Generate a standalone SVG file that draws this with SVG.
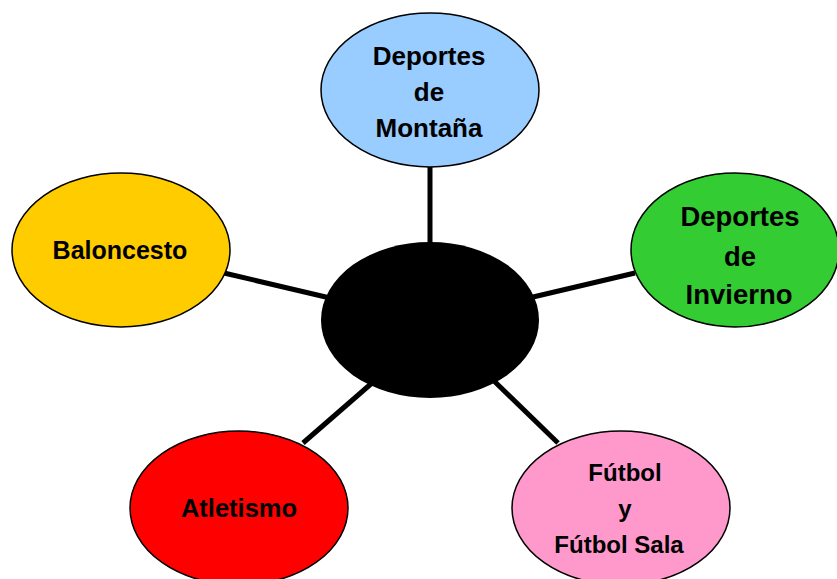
<svg xmlns="http://www.w3.org/2000/svg" width="837" height="579" viewBox="0 0 837 579">
<style>
.n{stroke:#000;stroke-width:1.5}
.c{stroke:#000;stroke-width:5;fill:none}
text{font-family:"Liberation Sans",Arial,sans-serif;font-weight:bold;fill:#000;text-anchor:middle}
</style>
<rect width="837" height="579" fill="#fff"/>
<g id="connectors">
<line class="c" x1="430" y1="166" x2="430" y2="244"/>
<line class="c" x1="224" y1="273" x2="330" y2="298"/>
<line class="c" x1="533" y1="297" x2="635" y2="273"/>
<line class="c" x1="372" y1="383" x2="303" y2="443"/>
<line class="c" x1="493" y1="380" x2="558" y2="443"/>
</g>
<g id="center"><ellipse cx="430" cy="320" rx="109" ry="78" fill="#000"/></g>
<g id="montana">
<ellipse class="n" cx="430" cy="90" rx="109" ry="77" fill="#99CCFF"/>
<text font-size="26" x="429" y="65">Deportes</text>
<text font-size="26" x="429" y="101">de</text>
<text font-size="26" x="429" y="137">Montaña</text>
</g>
<g id="invierno">
<ellipse class="n" cx="735" cy="250" rx="104" ry="77" fill="#33CC33"/>
<text font-size="27.5" x="740" y="226">Deportes</text>
<text font-size="27.5" x="740" y="266">de</text>
<text font-size="27.5" x="739" y="304">Invierno</text>
</g>
<g id="baloncesto">
<ellipse class="n" cx="121" cy="250" rx="109" ry="77" fill="#FFCC00"/>
<text font-size="25" x="120" y="259">Baloncesto</text>
</g>
<g id="atletismo">
<ellipse class="n" cx="239" cy="508" rx="109" ry="77" fill="#FF0000"/>
<text font-size="25.5" x="239" y="517">Atletismo</text>
</g>
<g id="futbol">
<ellipse class="n" cx="621" cy="508" rx="109" ry="77" fill="#FF99CC"/>
<text font-size="24" x="625" y="481">Fútbol</text>
<text font-size="24" x="625" y="517">y</text>
<text font-size="24" x="619" y="553">Fútbol Sala</text>
</g>
</svg>
